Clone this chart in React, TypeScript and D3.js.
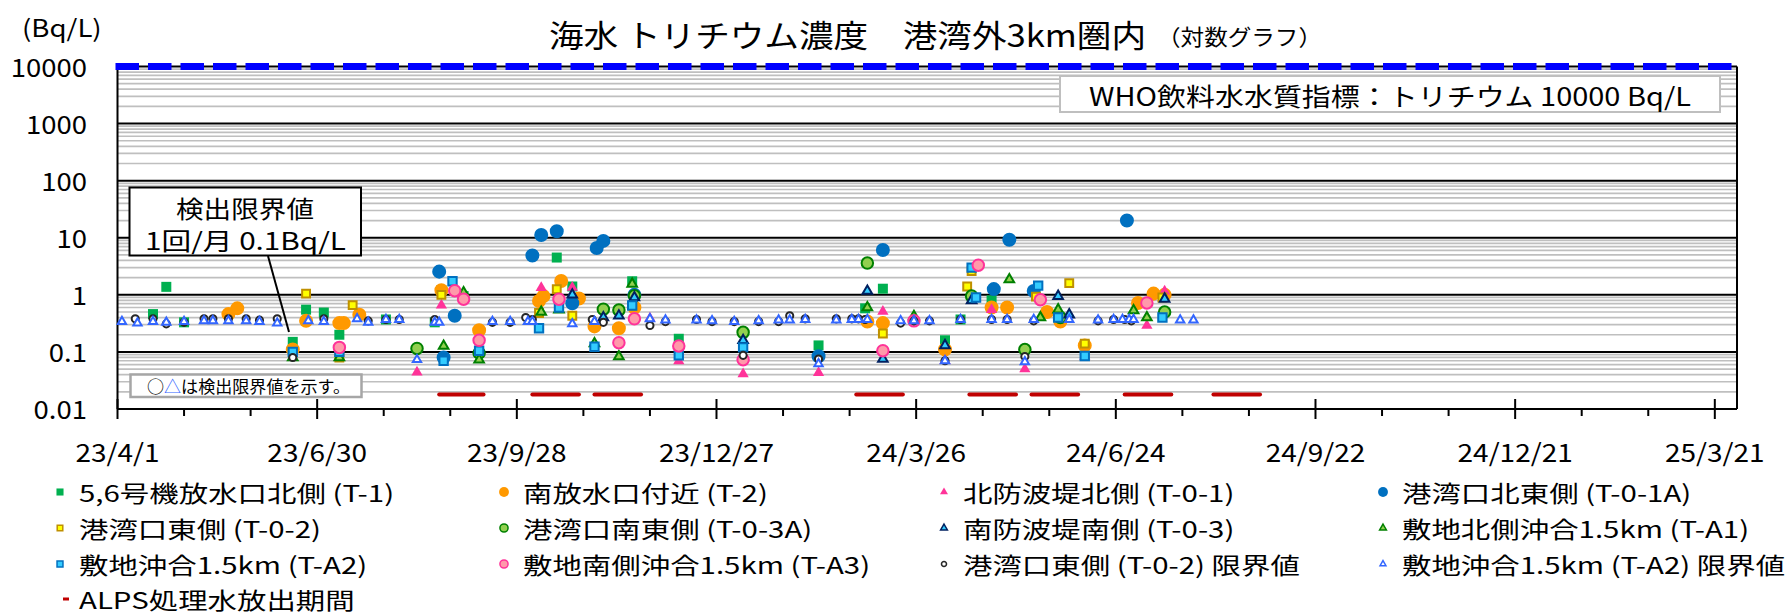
import React, { useEffect, useRef } from "react";
import { select, scaleTime, scaleLog, timeParse, timeDay, range,
    symbol, symbolCircle, symbolSquare, symbolTriangle } from "d3";

const parseDate = timeParse("%Y-%m-%d");

// axis
const xDomain = ["2023-04-01", "2025-03-31"];
const xTickLabels = ["23/4/1", "23/6/30", "23/9/28", "23/12/27", "24/3/26", "24/6/24", "24/9/22", "24/12/21", "25/3/21"];
const yTicks = [0.01, 0.1, 1, 10, 100, 1000, 10000];
const yTickLabels = ["0.01", "0.1", "1", "10", "100", "1000", "10000"];
const whoLevel = 10000;
const alpsLevel = 0.018;

// ALPS処理水放出期間 [start, end]
const alpsPeriods = [
    ["2023-08-24", "2023-09-13"], ["2023-10-05", "2023-10-26"], ["2023-11-02", "2023-11-23"],
    ["2024-02-28", "2024-03-20"], ["2024-04-19", "2024-05-10"], ["2024-05-17", "2024-06-07"],
    ["2024-06-28", "2024-07-19"], ["2024-08-07", "2024-08-28"],
];

// [date, Bq/L]
const t1 = [["2023-04-17", 0.46], ["2023-04-23", 1.38], ["2023-05-01", 0.33], ["2023-06-19", 0.15], ["2023-06-25", 0.55],
    ["2023-07-03", 0.49], ["2023-07-10", 0.2], ["2023-07-31", 0.37], ["2023-08-22", 0.33], ["2023-08-25", 1.2],
    ["2023-09-04", 0.95], ["2023-10-16", 4.5], ["2023-10-23", 1.4], ["2023-11-19", 1.73], ["2023-12-10", 0.17],
    ["2024-02-11", 0.13], ["2024-03-03", 0.58], ["2024-03-11", 1.28], ["2024-04-08", 0.16], ["2024-04-15", 0.37],
    ["2024-04-29", 0.8], ["2024-06-10", 0.13]];
const t2 = [["2023-05-21", 0.46], ["2023-05-25", 0.58], ["2023-06-19", 0.11], ["2023-06-25", 0.35], ["2023-07-10", 0.32],
    ["2023-07-12", 0.32], ["2023-07-19", 0.45], ["2023-08-25", 1.2], ["2023-09-11", 0.24], ["2023-10-08", 0.78],
    ["2023-10-10", 0.95], ["2023-10-18", 1.75], ["2023-10-26", 0.86], ["2023-11-02", 0.28], ["2023-11-13", 0.26],
    ["2023-11-20", 0.6], ["2024-03-04", 0.34], ["2024-03-11", 0.32], ["2024-04-08", 0.11], ["2024-04-29", 0.6],
    ["2024-05-06", 0.6], ["2024-05-24", 0.5], ["2024-05-30", 0.34], ["2024-06-10", 0.13], ["2024-07-04", 0.72],
    ["2024-07-11", 1.05], ["2024-07-16", 1.0]];
const t01 = [["2023-08-14", 0.044], ["2023-08-25", 0.66], ["2023-10-09", 1.33], ["2023-10-23", 1.35], ["2023-11-27", 0.39],
    ["2023-12-10", 0.069], ["2024-01-08", 0.041], ["2024-02-11", 0.043], ["2024-03-11", 0.51], ["2024-04-08", 0.07],
    ["2024-04-29", 0.55], ["2024-05-14", 0.05], ["2024-06-10", 0.083], ["2024-07-08", 0.29], ["2024-07-16", 1.15]];
const t01a = [["2023-08-24", 2.55], ["2023-08-26", 0.08], ["2023-08-31", 0.43], ["2023-10-05", 4.9], ["2023-10-09", 11.2],
    ["2023-10-16", 13], ["2023-10-23", 0.71], ["2023-11-03", 6.6], ["2023-11-06", 8.8], ["2023-11-20", 1.0],
    ["2024-02-11", 0.084], ["2024-03-11", 6.1], ["2024-04-30", 1.26], ["2024-05-07", 9.2], ["2024-05-18", 1.17],
    ["2024-06-29", 20]];
const t02 = [["2023-06-25", 1.05], ["2023-07-10", 0.08], ["2023-07-16", 0.66], ["2023-08-25", 1.0], ["2023-10-08", 0.48],
    ["2023-10-16", 1.25], ["2023-10-23", 0.43], ["2024-03-11", 0.21], ["2024-04-18", 1.4], ["2024-04-20", 2.6],
    ["2024-05-19", 0.93], ["2024-06-03", 1.6], ["2024-06-10", 0.14], ["2024-07-15", 0.9]];
const t03a = [["2023-08-14", 0.115], ["2023-09-11", 0.096], ["2023-11-06", 0.56], ["2023-11-13", 0.54], ["2023-11-20", 0.96],
    ["2024-01-08", 0.22], ["2024-03-04", 3.6], ["2024-04-20", 0.95], ["2024-05-14", 0.11], ["2024-05-30", 0.4],
    ["2024-07-16", 0.5]];
const t03 = [["2023-10-23", 1.0], ["2023-11-06", 0.4], ["2023-11-13", 0.43], ["2023-11-20", 0.9], ["2024-01-08", 0.16],
    ["2024-03-04", 1.17], ["2024-03-11", 0.075], ["2024-04-08", 0.13], ["2024-04-20", 0.8], ["2024-05-29", 0.95],
    ["2024-06-03", 0.45], ["2024-07-16", 0.85]];
const ta1 = [["2023-06-19", 0.08], ["2023-07-10", 0.08], ["2023-08-26", 0.127], ["2023-09-04", 1.1], ["2023-09-11", 0.073],
    ["2023-10-09", 0.5], ["2023-10-17", 0.55], ["2023-11-02", 0.14], ["2023-11-13", 0.083], ["2023-11-19", 1.55],
    ["2024-03-04", 0.6], ["2024-03-25", 0.42], ["2024-05-07", 1.85], ["2024-05-21", 0.4], ["2024-05-29", 0.55],
    ["2024-07-02", 0.53], ["2024-07-08", 0.4]];
const ta2 = [["2023-06-19", 0.1], ["2023-07-10", 0.1], ["2023-08-26", 0.07], ["2023-08-30", 1.73], ["2023-09-11", 0.105],
    ["2023-10-08", 0.26], ["2023-10-17", 0.6], ["2023-11-02", 0.123], ["2023-11-19", 0.65], ["2023-12-10", 0.087],
    ["2024-01-08", 0.12], ["2024-04-20", 3.0], ["2024-04-22", 0.9], ["2024-05-20", 1.45], ["2024-05-29", 0.4],
    ["2024-06-10", 0.085], ["2024-07-15", 0.4]];
const ta3 = [["2023-07-10", 0.12], ["2023-08-31", 1.18], ["2023-09-04", 0.84], ["2023-09-11", 0.16], ["2023-10-17", 0.84],
    ["2023-11-13", 0.145], ["2023-11-20", 0.38], ["2023-12-10", 0.127], ["2024-01-08", 0.073], ["2024-03-11", 0.105],
    ["2024-03-25", 0.35], ["2024-04-23", 3.3], ["2024-05-21", 0.82], ["2024-07-08", 0.72]];
const t02Limit = [["2023-04-09", 0.38], ["2023-04-17", 0.38], ["2023-04-23", 0.31], ["2023-05-01", 0.33], ["2023-05-10", 0.38],
    ["2023-05-14", 0.38], ["2023-05-21", 0.38], ["2023-05-29", 0.38], ["2023-06-04", 0.36], ["2023-06-12", 0.38],
    ["2023-06-19", 0.08], ["2023-07-03", 0.38], ["2023-07-23", 0.35], ["2023-07-31", 0.37], ["2023-08-06", 0.37],
    ["2023-08-22", 0.37], ["2023-09-17", 0.33], ["2023-09-25", 0.33], ["2023-10-02", 0.4], ["2023-10-05", 0.37],
    ["2023-11-01", 0.37], ["2023-11-06", 0.33], ["2023-11-27", 0.29], ["2023-12-04", 0.34], ["2023-12-18", 0.37],
    ["2023-12-25", 0.34], ["2024-01-04", 0.34], ["2024-01-08", 0.087], ["2024-01-15", 0.34], ["2024-01-24", 0.34],
    ["2024-01-29", 0.43], ["2024-02-05", 0.38], ["2024-02-11", 0.075], ["2024-02-19", 0.38], ["2024-02-26", 0.38],
    ["2024-02-29", 0.38], ["2024-03-03", 0.37], ["2024-03-19", 0.32], ["2024-03-25", 0.35], ["2024-04-01", 0.35],
    ["2024-04-08", 0.07], ["2024-04-15", 0.37], ["2024-04-29", 0.37], ["2024-05-06", 0.37], ["2024-05-14", 0.083],
    ["2024-05-18", 0.35], ["2024-06-16", 0.35], ["2024-06-23", 0.37], ["2024-06-28", 0.37], ["2024-07-01", 0.35]];
const ta2Limit = [["2023-04-03", 0.34], ["2023-04-10", 0.32], ["2023-04-17", 0.34], ["2023-04-23", 0.33], ["2023-05-01", 0.34],
    ["2023-05-10", 0.35], ["2023-05-14", 0.35], ["2023-05-21", 0.35], ["2023-05-29", 0.35], ["2023-06-04", 0.34],
    ["2023-06-12", 0.32], ["2023-06-26", 0.35], ["2023-07-03", 0.34], ["2023-07-18", 0.38], ["2023-07-23", 0.33],
    ["2023-07-31", 0.37], ["2023-08-06", 0.37], ["2023-08-14", 0.073], ["2023-08-22", 0.33], ["2023-08-24", 0.33],
    ["2023-09-17", 0.34], ["2023-09-25", 0.34], ["2023-10-03", 0.34], ["2023-10-05", 0.34], ["2023-10-23", 0.31],
    ["2023-11-02", 0.34], ["2023-11-27", 0.38], ["2023-12-04", 0.36], ["2023-12-18", 0.36], ["2023-12-25", 0.35],
    ["2024-01-04", 0.34], ["2024-01-15", 0.35], ["2024-01-24", 0.36], ["2024-01-29", 0.36], ["2024-02-05", 0.37],
    ["2024-02-11", 0.062], ["2024-02-19", 0.36], ["2024-02-26", 0.37], ["2024-02-29", 0.37], ["2024-03-04", 0.37],
    ["2024-03-19", 0.35], ["2024-03-25", 0.35], ["2024-04-01", 0.35], ["2024-04-08", 0.07], ["2024-04-15", 0.37],
    ["2024-04-29", 0.37], ["2024-05-06", 0.37], ["2024-05-14", 0.067], ["2024-05-18", 0.37], ["2024-06-03", 0.37],
    ["2024-06-16", 0.36], ["2024-06-23", 0.37], ["2024-06-27", 0.37], ["2024-06-30", 0.37], ["2024-07-02", 0.37],
    ["2024-07-23", 0.36], ["2024-07-29", 0.36]];

const series = [
    { name: "5,6号機放水口北側 (T-1)", data: t1, shape: "square", size: 100, fill: "#00B050", stroke: "none" },
    { name: "南放水口付近 (T-2)", data: t2, shape: "circle", size: 154, fill: "#FF9900", stroke: "none" },
    { name: "北防波堤北側 (T-0-1)", data: t01, shape: "triangle", size: 55, fill: "#FF3399", stroke: "none" },
    { name: "港湾口北東側 (T-0-1A)", data: t01a, shape: "circle", size: 154, fill: "#0070C0", stroke: "none" },
    { name: "港湾口東側 (T-0-2)", data: t02, shape: "square", size: 62, fill: "#FFFF00", stroke: "#BF9000" },
    { name: "港湾口南東側 (T-0-3A)", data: t03a, shape: "circle", size: 104, fill: "#92D050", stroke: "#008000" },
    { name: "南防波堤南側 (T-0-3)", data: t03, shape: "triangle", size: 40, fill: "#33CCFF", stroke: "#002060" },
    { name: "敷地北側沖合1.5km (T-A1)", data: ta1, shape: "triangle", size: 40, fill: "#92D050", stroke: "#008000" },
    { name: "敷地沖合1.5km (T-A2)", data: ta2, shape: "square", size: 70, fill: "#33CCFF", stroke: "#0070C0" },
    { name: "敷地南側沖合1.5km (T-A3)", data: ta3, shape: "circle", size: 104, fill: "#FF99AA", stroke: "#FF3399" },
    { name: "港湾口東側 (T-0-2) 限界値", data: t02Limit, shape: "circle", size: 40, fill: "#FFFFFF", stroke: "#262626" },
    { name: "敷地沖合1.5km (T-A2) 限界値", data: ta2Limit, shape: "triangle", size: 30, fill: "#FFFFFF", stroke: "#3366FF" },
];
const alpsName = "ALPS処理水放出期間";

const shapes = { circle: symbolCircle, square: symbolSquare, triangle: symbolTriangle };
const font = "'Noto Sans CJK JP', 'Noto Sans', sans-serif";

function App() {
    const svgRef = useRef(null);

    useEffect(() => {
        const svg = select(svgRef.current);
        svg.selectAll("*").remove();

        const x = scaleTime().domain(xDomain.map(parseDate)).range([117.5, 1737]);
        const y = scaleLog().domain([0.01, 10000]).range([409, 66.5]);
        const [x0, x1] = x.range();

        const addText = (g, tx, ty, str, size, sx, anchor = "start") =>
            g.append("text")
                .attr("transform", `translate(${tx},${ty}) scale(${sx},1)`)
                .attr("font-size", size)
                .attr("text-anchor", anchor)
                .attr("dominant-baseline", "central")
                .text(str);

        // gridlines
        const minors = [];
        for (let e = -2; e < 4; e++) for (let m = 2; m <= 9; m++) minors.push(m * 10 ** e);
        svg.append("g").selectAll("line").data(minors).join("line")
            .attr("x1", x0).attr("x2", x1)
            .attr("y1", d => y(d)).attr("y2", d => y(d))
            .attr("stroke", "#BFBFBF").attr("stroke-width", 1.7);
        svg.append("g").selectAll("line").data(yTicks).join("line")
            .attr("x1", x0).attr("x2", x1)
            .attr("y1", d => y(d)).attr("y2", d => y(d))
            .attr("stroke", "#000").attr("stroke-width", 2);

        // axes frame
        svg.append("line").attr("x1", x0).attr("x2", x0).attr("y1", y(10000)).attr("y2", y(0.01))
            .attr("stroke", "#000").attr("stroke-width", 2);
        svg.append("line").attr("x1", x1).attr("x2", x1).attr("y1", y(10000)).attr("y2", y(0.01))
            .attr("stroke", "#000").attr("stroke-width", 2);

        // x ticks
        const start = parseDate(xDomain[0]);
        const majors = xTickLabels.map((_, i) => timeDay.offset(start, i * 90));
        const minorTicks = range(1, 25).filter(i => i % 3).map(i => timeDay.offset(start, i * 30));
        const yb = y(0.01);
        svg.append("g").selectAll("line").data(minorTicks).join("line")
            .attr("x1", d => x(d)).attr("x2", d => x(d)).attr("y1", yb).attr("y2", yb + 7)
            .attr("stroke", "#000").attr("stroke-width", 2);
        svg.append("g").selectAll("line").data(majors).join("line")
            .attr("x1", d => x(d)).attr("x2", d => x(d)).attr("y1", yb - 10).attr("y2", yb + 10)
            .attr("stroke", "#000").attr("stroke-width", 2);

        const labels = svg.append("g").attr("font-family", font).attr("fill", "#000");
        majors.forEach((d, i) => addText(labels, x(d), 451, xTickLabels[i], 25, 1.12, "middle"));
        yTicks.forEach((v, i) => addText(labels, 87, y(v), yTickLabels[i], 25, 1.1, "end"));
        addText(labels, 22, 26, "(Bq/L)", 24, 1.15);

        // title
        labels.append("text").attr("x", 549).attr("y", 33).attr("font-size", 31)
            .attr("dominant-baseline", "central").attr("textLength", 597).attr("lengthAdjust", "spacingAndGlyphs")
            .style("white-space", "pre")
            .text("海水 トリチウム濃度　港湾外3km圏内");
        labels.append("text").attr("x", 1157).attr("y", 35).attr("font-size", 22)
            .attr("dominant-baseline", "central").attr("textLength", 165).attr("lengthAdjust", "spacingAndGlyphs")
            .text("（対数グラフ）");

        // ALPS periods
        svg.append("g").selectAll("line").data(alpsPeriods).join("line")
            .attr("x1", d => x(parseDate(d[0]))).attr("x2", d => x(parseDate(d[1])))
            .attr("y1", y(alpsLevel)).attr("y2", y(alpsLevel))
            .attr("stroke", "#C00000").attr("stroke-width", 4).attr("stroke-linecap", "round");

        // markers
        series.forEach(s => {
            svg.append("g").selectAll("path").data(s.data).join("path")
                .attr("transform", d => `translate(${x(parseDate(d[0]))},${y(d[1])})`)
                .attr("d", symbol(shapes[s.shape], s.size)())
                .attr("fill", s.fill)
                .attr("stroke", s.stroke)
                .attr("stroke-width", s.stroke === "none" ? 0 : 2);
        });

        // WHO guideline
        svg.append("line").attr("x1", x0 - 2).attr("x2", x1).attr("y1", y(whoLevel)).attr("y2", y(whoLevel))
            .attr("stroke", "#0000FF").attr("stroke-width", 7).attr("stroke-dasharray", "23.5,9");

        // WHO box
        const who = svg.append("g").attr("font-family", font);
        who.append("rect").attr("x", 1060).attr("y", 76).attr("width", 660).attr("height", 36)
            .attr("fill", "#fff").attr("stroke", "#BFBFBF").attr("stroke-width", 2);
        who.append("text").attr("x", 1089).attr("y", 94.5).attr("font-size", 25)
            .attr("dominant-baseline", "central").attr("textLength", 602).attr("lengthAdjust", "spacingAndGlyphs")
            .style("white-space", "pre")
            .text("WHO飲料水水質指標：トリチウム 10000 Bq/L");

        // detection limit callout
        const note = svg.append("g").attr("font-family", font);
        note.append("line").attr("x1", 268).attr("y1", 256).attr("x2", 289).attr("y2", 332)
            .attr("stroke", "#000").attr("stroke-width", 2);
        note.append("rect").attr("x", 129.5).attr("y", 187.5).attr("width", 231.5).attr("height", 68)
            .attr("fill", "#fff").attr("stroke", "#000").attr("stroke-width", 2);
        note.append("text").attr("x", 245).attr("y", 207).attr("font-size", 24).attr("text-anchor", "middle")
            .attr("dominant-baseline", "central").attr("textLength", 138).attr("lengthAdjust", "spacingAndGlyphs")
            .text("検出限界値");
        note.append("text").attr("x", 245.5).attr("y", 239).attr("font-size", 24).attr("text-anchor", "middle")
            .attr("dominant-baseline", "central").attr("textLength", 201).attr("lengthAdjust", "spacingAndGlyphs")
            .style("white-space", "pre")
            .text("1回/月 0.1Bq/L");

        note.append("rect").attr("x", 130.5).attr("y", 374.5).attr("width", 231).attr("height", 22.5)
            .attr("fill", "#fff").attr("stroke", "#A6A6A6").attr("stroke-width", 2.5);
        const nt = note.append("text").attr("x", 248.5).attr("y", 386).attr("font-size", 16.5)
            .attr("text-anchor", "middle").attr("dominant-baseline", "central")
            .attr("textLength", 203).attr("lengthAdjust", "spacingAndGlyphs");
        nt.append("tspan").text("○");
        nt.append("tspan").attr("fill", "#3366FF").text("△");
        nt.append("tspan").text("は検出限界値を示す。");

        // legend
        const colX = [60, 504, 944, 1383];
        const rowY = [492, 528, 564, 599];
        const legend = svg.append("g").attr("font-family", font);
        series.forEach((s, i) => {
            const lx = colX[i % 4], ly = rowY[Math.floor(i / 4)];
            legend.append("path")
                .attr("transform", `translate(${lx},${ly})`)
                .attr("d", symbol(shapes[s.shape], s.size * 0.5)())
                .attr("fill", s.fill).attr("stroke", s.stroke)
                .attr("stroke-width", s.stroke === "none" ? 0 : 1.5);
            addText(legend, lx + 19, ly, s.name, 23, 1.28);
        });
        legend.append("line").attr("x1", 63).attr("x2", 69).attr("y1", rowY[3]).attr("y2", rowY[3])
            .attr("stroke", "#C00000").attr("stroke-width", 3);
        addText(legend, 79, rowY[3], alpsName, 23, 1.28);
    }, []);

    return (
        <svg ref={svgRef} width={1791} height={615}
            style={{ position: "absolute", left: 0, top: 0, background: "#fff" }} />
    );
}

export default App;
